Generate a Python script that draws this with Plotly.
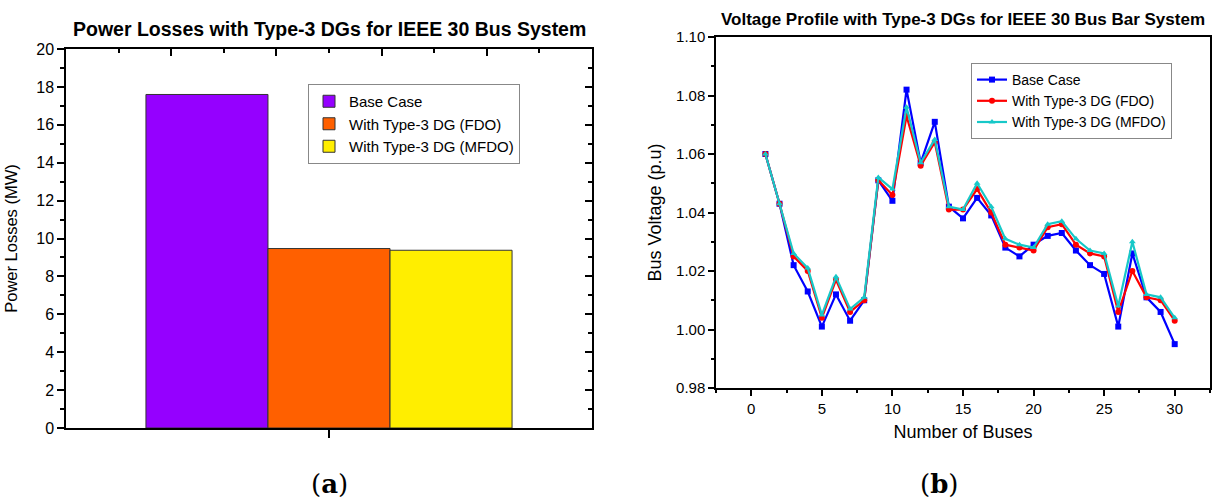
import plotly.graph_objects as go

# ---- Power losses (MW) ----
loss_cases = ["Base Case", "With Type-3 DG (FDO)", "With Type-3 DG (MFDO)"]
loss_values = [17.6, 9.47, 9.38]
loss_colors = ["#9500FF", "#FF6000", "#FFEE00"]

# ---- Bus voltages (p.u) for the IEEE 30-bus system ----
buses = list(range(1, 31))
v_base = [1.060, 1.043, 1.022, 1.013, 1.001, 1.012, 1.003, 1.010, 1.051, 1.044,
          1.082, 1.057, 1.071, 1.042, 1.038, 1.045, 1.039, 1.028, 1.025, 1.029,
          1.032, 1.033, 1.027, 1.022, 1.019, 1.001, 1.026, 1.011, 1.006, 0.995]
v_fdo = [1.060, 1.043, 1.025, 1.020, 1.004, 1.017, 1.006, 1.010, 1.051, 1.046,
         1.073, 1.056, 1.064, 1.041, 1.041, 1.048, 1.040, 1.029, 1.028, 1.027,
         1.035, 1.036, 1.029, 1.026, 1.025, 1.006, 1.020, 1.011, 1.010, 1.003]
v_mfdo = [1.060, 1.043, 1.026, 1.021, 1.005, 1.018, 1.007, 1.011, 1.052, 1.048,
          1.076, 1.057, 1.065, 1.042, 1.041, 1.050, 1.042, 1.031, 1.029, 1.028,
          1.036, 1.037, 1.031, 1.027, 1.026, 1.008, 1.030, 1.012, 1.011, 1.004]
voltage_series = [
    ("Base Case", v_base, "#0000FF", "square"),
    ("With Type-3 DG (FDO)", v_fdo, "#FF0000", "circle"),
    ("With Type-3 DG (MFDO)", v_mfdo, "#17C8C8", "triangle-up"),
]

W, H = 1213, 499
FONT = "Arial, Liberation Sans, sans-serif"
SERIF = "DejaVu Serif, Liberation Serif, serif"


def px_x(p):
    return p / W


def px_y(p):
    return 1 - p / H


fig = go.Figure()

for name, val, col in zip(loss_cases, loss_values, loss_colors):
    fig.add_trace(go.Bar(
        x=[""], y=[val], name=name, marker_color=col,
        marker_line=dict(color="#333333", width=1),
        xaxis="x", yaxis="y", legend="legend",
    ))

for name, vals, col, sym in voltage_series:
    fig.add_trace(go.Scatter(
        x=buses, y=vals, name=name, mode="lines+markers",
        line=dict(color=col, width=2.2),
        marker=dict(symbol=sym, size=6, color=col),
        xaxis="x2", yaxis="y2", legend="legend2",
    ))

# invisible trace that binds the mirrored axes of the loss chart
fig.add_trace(go.Scatter(x=[0], y=[0], xaxis="x3", yaxis="y3", mode="none",
                         showlegend=False, hoverinfo="skip"))

axis_common = dict(showline=True, linecolor="black", linewidth=1.5,
                   showgrid=False, zeroline=False, automargin=False,
                   tickfont=dict(family=FONT, color="black"),
                   tickcolor="black")

left_dom_x = [px_x(66), px_x(592)]
left_dom_y = [px_y(428), px_y(49)]
right_dom_x = [px_x(716), px_x(1210)]
right_dom_y = [px_y(388), px_y(37)]

fig.update_layout(
    width=W, height=H,
    margin=dict(l=0, r=0, t=0, b=0, autoexpand=False),
    paper_bgcolor="white", plot_bgcolor="white",
    barmode="group", bargap=0.304, bargroupgap=0,
    font=dict(family=FONT, color="black"),
    xaxis=dict(**axis_common, domain=left_dom_x, anchor="y",
               ticks="outside", ticklen=8, tickwidth=1.5,
               showticklabels=False),
    yaxis=dict(**axis_common, domain=left_dom_y, anchor="x",
               range=[0, 20], dtick=2, ticks="outside", ticklen=7,
               tickwidth=1.5, tickfont_size=16,
               minor=dict(dtick=1, ticks="outside", ticklen=4,
                          tickcolor="black"),
               title=dict(text="Power Losses (MW)",
                          font=dict(size=16.5, family=FONT), standoff=14)),
    # mirrored frame with inward ticks for the loss chart
    xaxis3=dict(**axis_common, domain=left_dom_x, overlaying="x",
                side="top", anchor="y", range=[0, 1], dtick=0.2,
                ticks="inside", ticklen=7, tickwidth=1.5,
                showticklabels=False,
                minor=dict(dtick=0.1, ticks="inside", ticklen=4,
                           tickcolor="black")),
    yaxis3=dict(**axis_common, domain=left_dom_y, overlaying="y",
                side="right", anchor="x", range=[0, 20], dtick=2,
                ticks="inside", ticklen=7, tickwidth=1.5,
                showticklabels=False,
                minor=dict(dtick=1, ticks="inside", ticklen=4,
                           tickcolor="black")),
    xaxis2=dict(**axis_common, domain=right_dom_x, anchor="y2",
                range=[-2.5, 32.5], dtick=5, ticks="outside", ticklen=6,
                tickwidth=1.5, tickfont_size=15, mirror=True,
                minor=dict(dtick=2.5, ticks="outside", ticklen=3,
                           tickcolor="black"),
                title=dict(text="Number of Buses",
                           font=dict(size=18, family=FONT), standoff=10)),
    yaxis2=dict(**axis_common, domain=right_dom_y, anchor="x2",
                range=[0.98, 1.10], dtick=0.02, tickformat=".2f",
                ticks="outside", ticklen=6, tickwidth=1.5,
                tickfont_size=15, mirror=True,
                minor=dict(dtick=0.01, ticks="outside", ticklen=3,
                           tickcolor="black"),
                title=dict(text="Bus Voltage (p.u)",
                           font=dict(size=18, family=FONT), standoff=10)),
    legend=dict(x=px_x(308), y=px_y(84), xanchor="left", yanchor="top",
                bgcolor="white", bordercolor="#888888", borderwidth=1,
                font=dict(size=15, family=FONT), itemwidth=30,
                tracegroupgap=0),
    legend2=dict(x=px_x(971), y=px_y(63), xanchor="left", yanchor="top",
                 bgcolor="white", bordercolor="#888888", borderwidth=1,
                 font=dict(size=14, family=FONT), itemwidth=30,
                 tracegroupgap=0),
    showlegend=True,
)

annotations = [
    dict(text="<b>Power Losses with Type-3 DGs for IEEE 30 Bus System</b>",
         x=px_x(329), y=px_y(29), font=dict(size=19.5, family=FONT)),
    dict(text="<b>Voltage Profile with Type-3 DGs for IEEE 30 Bus Bar System</b>",
         x=px_x(963), y=px_y(19), font=dict(size=17, family=FONT)),
    dict(text="(<b>a</b>)", x=px_x(329), y=px_y(484),
         font=dict(size=26, family=SERIF)),
    dict(text="(<b>b</b>)", x=px_x(940), y=px_y(484),
         font=dict(size=26, family=SERIF)),
]
for a in annotations:
    fig.add_annotation(xref="paper", yref="paper", showarrow=False,
                       xanchor="center", yanchor="middle", **a)

fig.write_html("out.html")
